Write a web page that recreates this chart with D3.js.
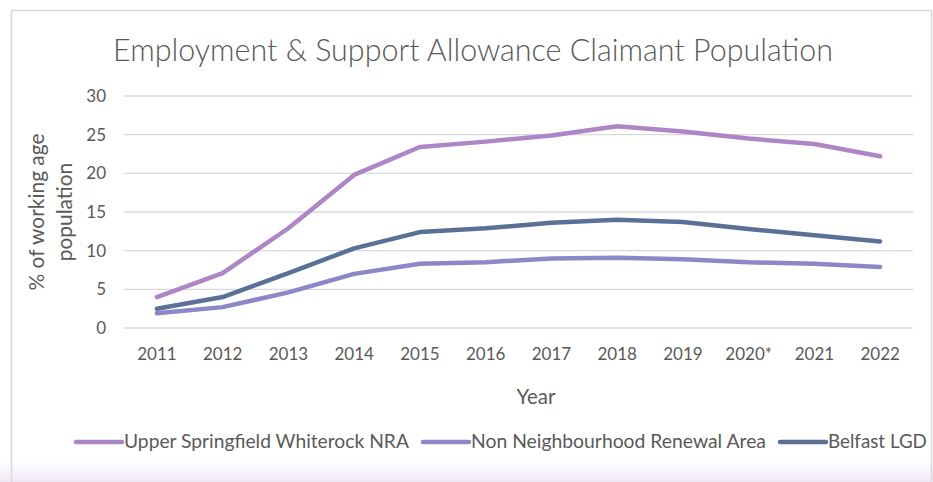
<!DOCTYPE html>
<html><head><meta charset="utf-8">
<script src="https://cdn.jsdelivr.net/npm/d3@7"></script>
<style>body{margin:0;background:#fff}svg{display:block}text{font-family:Lato,"Open Sans",sans-serif;fill:#595959}</style>
</head><body><svg id="c" width="933" height="482"></svg>
<script>
const years = ["2011","2012","2013","2014","2015","2016","2017","2018","2019","2020*","2021","2022"];
const upperSpringfield = [4.0,7.1,12.9,19.8,23.4,24.1,24.9,26.1,25.4,24.5,23.8,22.2];
const nonNRA = [1.9,2.7,4.6,7.0,8.3,8.5,9.0,9.1,8.9,8.5,8.3,7.9];
const belfast = [2.5,4.0,7.1,10.3,12.4,12.9,13.6,14.0,13.7,12.8,12.0,11.2];
const seriesNames = ["Upper Springfield Whiterock NRA","Non Neighbourhood Renewal Area","Belfast LGD"];
const yTicks = [0,5,10,15,20,25,30];

const series = [
  {name: seriesNames[0], values: upperSpringfield, color: "#ae85c7"},
  {name: seriesNames[1], values: nonNRA, color: "#8b87c9"},
  {name: seriesNames[2], values: belfast, color: "#5b7097"}
];

function fit(sel, target){
  const n = sel.node();
  const fs = parseFloat(n.style.fontSize);
  const w = n.getComputedTextLength();
  sel.style("font-size", (fs*target/w).toFixed(2)+"px");
}

const svg = d3.select("#c");
const defs = svg.append("defs");
const g1 = defs.append("linearGradient").attr("id","bg").attr("x1",0).attr("y1",0).attr("x2",0).attr("y2",1);
g1.append("stop").attr("offset","0%").attr("stop-color","#ffffff");
g1.append("stop").attr("offset","100%").attr("stop-color","#efe6f6");
svg.append("rect").attr("x",0).attr("y",462).attr("width",933).attr("height",20).attr("fill","url(#bg)");
svg.append("rect").attr("x",11.5).attr("y",10.5).attr("width",920).attr("height",500).attr("fill","none").attr("stroke","#d9d9d9").attr("stroke-width",1.5);

const x = d3.scaleBand().domain(years).range([124, 913]);
const y = d3.scaleLinear().domain([0,30]).range([328, 96]);

svg.append("g").selectAll("line").data(yTicks).join("line")
  .attr("x1",124).attr("x2",913).attr("y1",d=>y(d)).attr("y2",d=>y(d))
  .attr("stroke","#d9d9d9").attr("stroke-width",1.3);

const yAxis = svg.append("g").attr("transform","translate(124,0)")
  .call(d3.axisLeft(y).tickValues(yTicks).tickSize(0).tickPadding(18));
yAxis.select(".domain").remove();
yAxis.selectAll("text").style("font-size","17px").attr("fill","#595959");

const xAxis = svg.append("g").attr("transform","translate(0,330)")
  .call(d3.axisBottom(x).tickSize(0).tickPadding(18));
xAxis.select(".domain").remove();
xAxis.selectAll("text").style("font-size","17px").attr("fill","#595959");

const line = d3.line().x((d,i)=>x(years[i])+x.bandwidth()/2).y(d=>y(d));
series.forEach(s=>{
  svg.append("path").attr("d",line(s.values)).attr("fill","none")
    .attr("stroke",s.color).attr("stroke-width",4.5).attr("stroke-linecap","round").attr("stroke-linejoin","round");
});

const title = svg.append("text").attr("x",473).attr("y",61).attr("text-anchor","middle")
  .style("font-size","28px").style("font-weight","300").text("Employment & Support Allowance Claimant Population");
fit(title, 720);

const yr = svg.append("text").attr("x",536).attr("y",404).attr("text-anchor","middle").style("font-size","17px").text("Year");
fit(yr, 39);

const yt = svg.append("text").attr("transform","translate(0,212) rotate(-90)").attr("text-anchor","middle").style("font-size","17px");
yt.append("tspan").attr("x",0).attr("y",44).text("% of working age");
yt.append("tspan").attr("x",0).attr("y",72).text("population");
{
  const t = yt.select("tspan").node();
  const w = t.getComputedTextLength();
  yt.style("font-size",(17*157/w).toFixed(2)+"px");
}

const legX = [76, 423, 780];
const legW = [285, 295, 99];
series.forEach((s,i)=>{
  const gg = svg.append("g").attr("transform",`translate(${legX[i]},442)`);
  gg.append("line").attr("x1",0).attr("x2",46).attr("y1",0).attr("y2",0).attr("stroke",s.color).attr("stroke-width",4.5).attr("stroke-linecap","round");
  const t = gg.append("text").attr("x",48).attr("y",6).style("font-size","15px").text(s.name);
  fit(t, legW[i]);
});
</script></body></html>
